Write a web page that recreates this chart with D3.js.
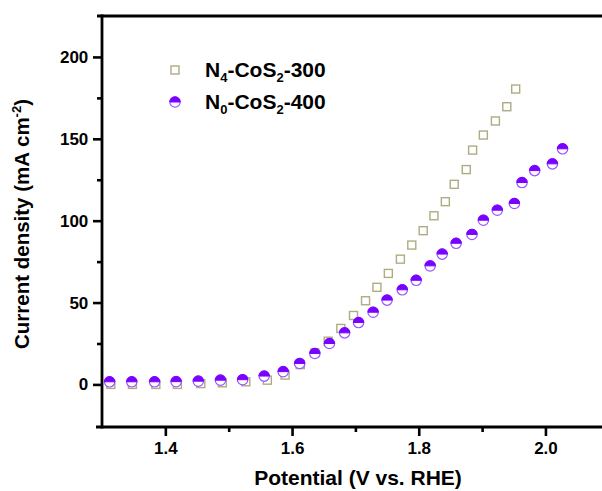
<!DOCTYPE html>
<html><head><meta charset="utf-8">
<script src="https://cdn.jsdelivr.net/npm/d3@7"></script>
<style>body{margin:0;background:#fff}svg{display:block}text{font-family:Arial,"Liberation Sans",sans-serif;font-weight:bold;fill:#000}</style>
</head><body><svg id="c" width="602" height="491"></svg>
<script>
// Data
const n4Potential = [1.314,1.348,1.385,1.419,1.456,1.490,1.527,1.561,1.589,1.613,1.636,1.657,1.677,1.697,1.716,1.734,1.752,1.771,1.789,1.807,1.824,1.842,1.856,1.875,1.885,1.902,1.921,1.939,1.953];
const n4Current   = [0.0,0.0,0.0,0.0,0.5,1.0,1.6,2.6,5.7,12.1,19.3,26.4,34.2,42.1,51.1,59.3,67.8,76.5,85.1,93.9,103.0,111.6,122.2,131.2,143.1,152.3,160.9,169.6,180.4];
const n0Potential = [1.312,1.347,1.383,1.417,1.452,1.487,1.522,1.556,1.586,1.612,1.636,1.659,1.683,1.705,1.728,1.750,1.774,1.796,1.818,1.837,1.859,1.884,1.902,1.924,1.951,1.963,1.983,2.011,2.027];
const n0Current   = [1.6,1.6,1.6,1.7,2.0,2.6,2.9,5.1,7.8,12.8,18.9,25.0,31.5,37.8,44.1,51.5,57.8,63.6,72.4,79.6,86.2,91.6,100.3,106.4,110.5,123.3,130.6,134.7,143.9];
const xTicks = [1.4,1.6,1.8,2.0];
const xMinor = [1.5,1.7,1.9];
const yTicks = [0,50,100,150,200];
const yMinor = [25,75,125,175];

const svg = d3.select("#c");
const x = d3.scaleLinear().domain([1.3,2.1]).range([102,608.8]);
const y = d3.scaleLinear().domain([-26,225]).range([427,16]);
const sqColor = "#aeac80", purple = "#7a00ff", purpleLight = "#9b55ff";
const AW = 2.8, TW = 2.6;

// top frame line
svg.append("line").attr("x1",97).attr("x2",602).attr("y1",y(225)).attr("y2",y(225)).style("stroke","#000").style("stroke-width",AW);

// x axis
const gx = svg.append("g").attr("transform",`translate(0,${y(-26)})`);
gx.call(d3.axisBottom(x).tickValues(xTicks).tickFormat(d3.format(".1f")).tickSize(9).tickSizeOuter(0));
gx.append("g").call(d3.axisBottom(x).tickValues(xMinor).tickFormat("").tickSize(5).tickSizeOuter(0)).select(".domain").remove();
gx.select("path.domain").attr("d",`M96,0H602`).style("stroke","#000").style("stroke-width",AW);
gx.selectAll("line").style("stroke","#000").style("stroke-width",TW);
gx.selectAll("text").attr("font-size",17).attr("dy","0.9em").style("font-family","Arial,'Liberation Sans',sans-serif").style("font-weight","bold");

// y axis
const gy = svg.append("g").attr("transform",`translate(${x(1.3)},0)`);
gy.call(d3.axisLeft(y).tickValues(yTicks).tickSize(9).tickSizeOuter(0));
gy.append("g").call(d3.axisLeft(y).tickValues(yMinor).tickFormat("").tickSize(5).tickSizeOuter(0)).select(".domain").remove();
gy.select("path.domain").attr("d",`M0,${y(-26)+1.4}V${y(225)-1.4}`).style("stroke","#000").style("stroke-width",AW);
gy.selectAll("line").style("stroke","#000").style("stroke-width",TW);
gy.selectAll("text").attr("font-size",17).attr("dx","-0.1em").style("font-family","Arial,'Liberation Sans',sans-serif").style("font-weight","bold");

// axis titles
svg.append("text").attr("x",358).attr("y",485).attr("text-anchor","middle").attr("font-size",21).text("Potential (V vs. RHE)");
const yt = svg.append("text").attr("transform","translate(29,224) rotate(-90)").attr("text-anchor","middle").attr("font-size",20.5);
yt.append("tspan").text("Current density (mA cm");
yt.append("tspan").attr("font-size",13).attr("dy",-8).text("-2");
yt.append("tspan").attr("dy",8).text(")");

// markers
const n4 = n4Potential.map((v,i)=>[v,n4Current[i]]);
const n0 = n0Potential.map((v,i)=>[v,n0Current[i]]);
const s = 8, r = 5.2;
svg.append("g").selectAll("rect").data(n4).join("rect")
  .attr("x",d=>x(d[0])-s/2).attr("y",d=>y(d[1])-s/2).attr("width",s).attr("height",s)
  .attr("fill","none").attr("stroke",sqColor).attr("stroke-width",1.4);
const half = `M${-r},0A${r},${r} 0 0 1 ${r},0Z`;
const cg = svg.append("g").selectAll("g").data(n0).join("g").attr("transform",d=>`translate(${x(d[0])},${y(d[1])})`);
cg.append("circle").attr("r",r).attr("fill","#fff").attr("stroke",purpleLight).attr("stroke-width",1.2);
cg.append("path").attr("d",half).attr("fill",purple).attr("stroke",purple).attr("stroke-width",1);

// legend
svg.append("rect").attr("x",175-s/2).attr("y",70-s/2).attr("width",s).attr("height",s).attr("fill","none").attr("stroke",sqColor).attr("stroke-width",1.4);
const lc = svg.append("g").attr("transform","translate(175,102)");
lc.append("circle").attr("r",r).attr("fill","#fff").attr("stroke",purpleLight).attr("stroke-width",1.2);
lc.append("path").attr("d",half).attr("fill",purple).attr("stroke",purple).attr("stroke-width",1);
function legendText(yPos, sub, tail){
  const t = svg.append("text").attr("x",205).attr("y",yPos).attr("font-size",21);
  t.append("tspan").text("N");
  t.append("tspan").attr("font-size",13).attr("dy",5).text(sub);
  t.append("tspan").attr("dy",-5).text("-CoS");
  t.append("tspan").attr("font-size",13).attr("dy",5).text("2");
  t.append("tspan").attr("dy",-5).text(tail);
}
legendText(77,"4","-300");
legendText(109,"0","-400");
</script></body></html>
